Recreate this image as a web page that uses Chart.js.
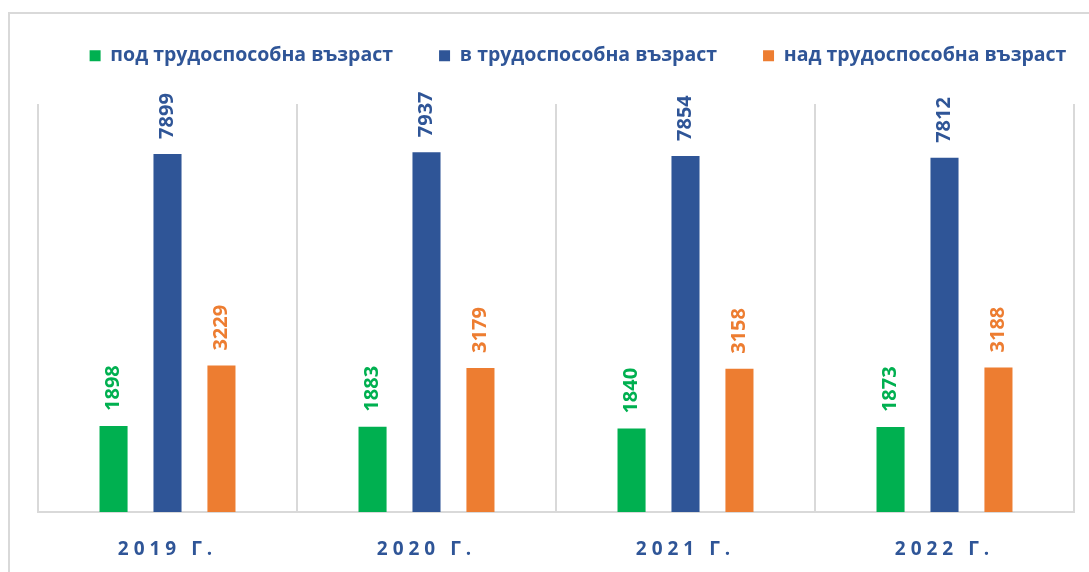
<!DOCTYPE html>
<html>
<head>
<meta charset="utf-8">
<script src="https://cdn.jsdelivr.net/npm/chart.js@4/dist/chart.umd.min.js"></script>
<style>
  html, body { margin: 0; padding: 0; background: #fff; overflow: hidden; }
  #wrap { position: relative; width: 1089px; height: 572px; }
  #frame { position: absolute; left: 8px; top: 12px; width: 1100px; height: 600px;
           border: 2px solid #d9d9d9; box-sizing: border-box; }
  canvas { position: absolute; left: 0; top: 0; }
</style>
</head>
<body>
<div id="wrap">
  <div id="frame"></div>
  <canvas id="chart" width="1089" height="572"></canvas>
</div>
<script>
const years = ['2019 Г.', '2020 Г.', '2021 Г.', '2022 Г.'];
const seriesNames = ['под трудоспособна възраст', 'в трудоспособна възраст', 'над трудоспособна възраст'];
const underAge = [1898, 1883, 1840, 1873];
const workingAge = [7899, 7937, 7854, 7812];
const overAge = [3229, 3179, 3158, 3188];
const colors = ['#00b050', '#2f5597', '#ed7d31'];

const FONT = "'Open Sans', sans-serif";
const TEXT_BLUE = '#2f5597';

// category axis with spaced-out letters, like the original
class SpacedCategory extends Chart.CategoryScale {
    drawLabels(area) {
        const ctx = this.ctx;
        ctx.save();
        ctx.letterSpacing = '5px';
        super.drawLabels(area);
        ctx.letterSpacing = '0px';
        ctx.restore();
    }
}
SpacedCategory.id = 'spacedCategory';
SpacedCategory.defaults = Chart.CategoryScale.defaults;
Chart.register(SpacedCategory);

// legend: keep it on one row, shorter box, nudge it right
const legendTweak = {
    id: 'legendTweak',
    beforeLayout(chart) {
        const lg = chart.legend;
        if (lg && !lg._tweaked) {
            const fit = lg.fit;
            lg.fit = function() {
                this.maxWidth = 1300;
                fit.call(this);
                this.height = 104;
            };
            lg._tweaked = true;
        }
    },
    afterLayout(chart) {
        // widen the box both ways so the row is not wrapped when drawn
        chart.legend.left += 22 - 150;
        chart.legend.right += 22 + 150;
    }
};

// rotated value labels above bars
const valueLabels = {
    id: 'valueLabels',
    afterDatasetsDraw(chart) {
        const ctx = chart.ctx;
        chart.data.datasets.forEach((ds, i) => {
            const meta = chart.getDatasetMeta(i);
            meta.data.forEach((bar, j) => {
                ctx.save();
                ctx.translate(bar.x, bar.y - 15);
                ctx.rotate(-Math.PI / 2);
                ctx.font = "bold 20px " + FONT;
                ctx.fillStyle = ds.backgroundColor;
                ctx.textAlign = 'left';
                ctx.textBaseline = 'middle';
                ctx.fillText(ds.data[j], 0, 0);
                ctx.restore();
            });
        });
    }
};

new Chart(document.getElementById('chart'), {
    type: 'bar',
    data: {
        labels: years,
        datasets: [
            { label: seriesNames[0], data: underAge, backgroundColor: colors[0] },
            { label: seriesNames[1], data: workingAge, backgroundColor: colors[1] },
            { label: seriesNames[2], data: overAge, backgroundColor: colors[2] }
        ]
    },
    options: {
        responsive: false,
        animation: false,
        events: [],
        categoryPercentage: 0.625,
        barPercentage: 0.52,
        layout: { padding: { left: 38, right: 15, top: 0, bottom: 0 } },
        plugins: {
            legend: {
                position: 'top',
                labels: {
                    boxWidth: 11, boxHeight: 11, padding: 46,
                    color: TEXT_BLUE,
                    font: { family: FONT, size: 19.5, weight: 'bold' }
                }
            },
            tooltip: { enabled: false }
        },
        scales: {
            x: {
                type: 'spacedCategory',
                grid: { color: '#d9d9d9', lineWidth: 2, drawTicks: false, offset: true },
                border: { color: '#d9d9d9', width: 2 },
                ticks: {
                    color: TEXT_BLUE, padding: 26,
                    font: { family: FONT, size: 19, weight: 'bold' }
                },
                afterFit(scale) { scale.height = 60; }
            },
            y: { display: false, min: 0, max: 9000 }
        }
    },
    plugins: [legendTweak, valueLabels]
});
</script>
</body>
</html>
